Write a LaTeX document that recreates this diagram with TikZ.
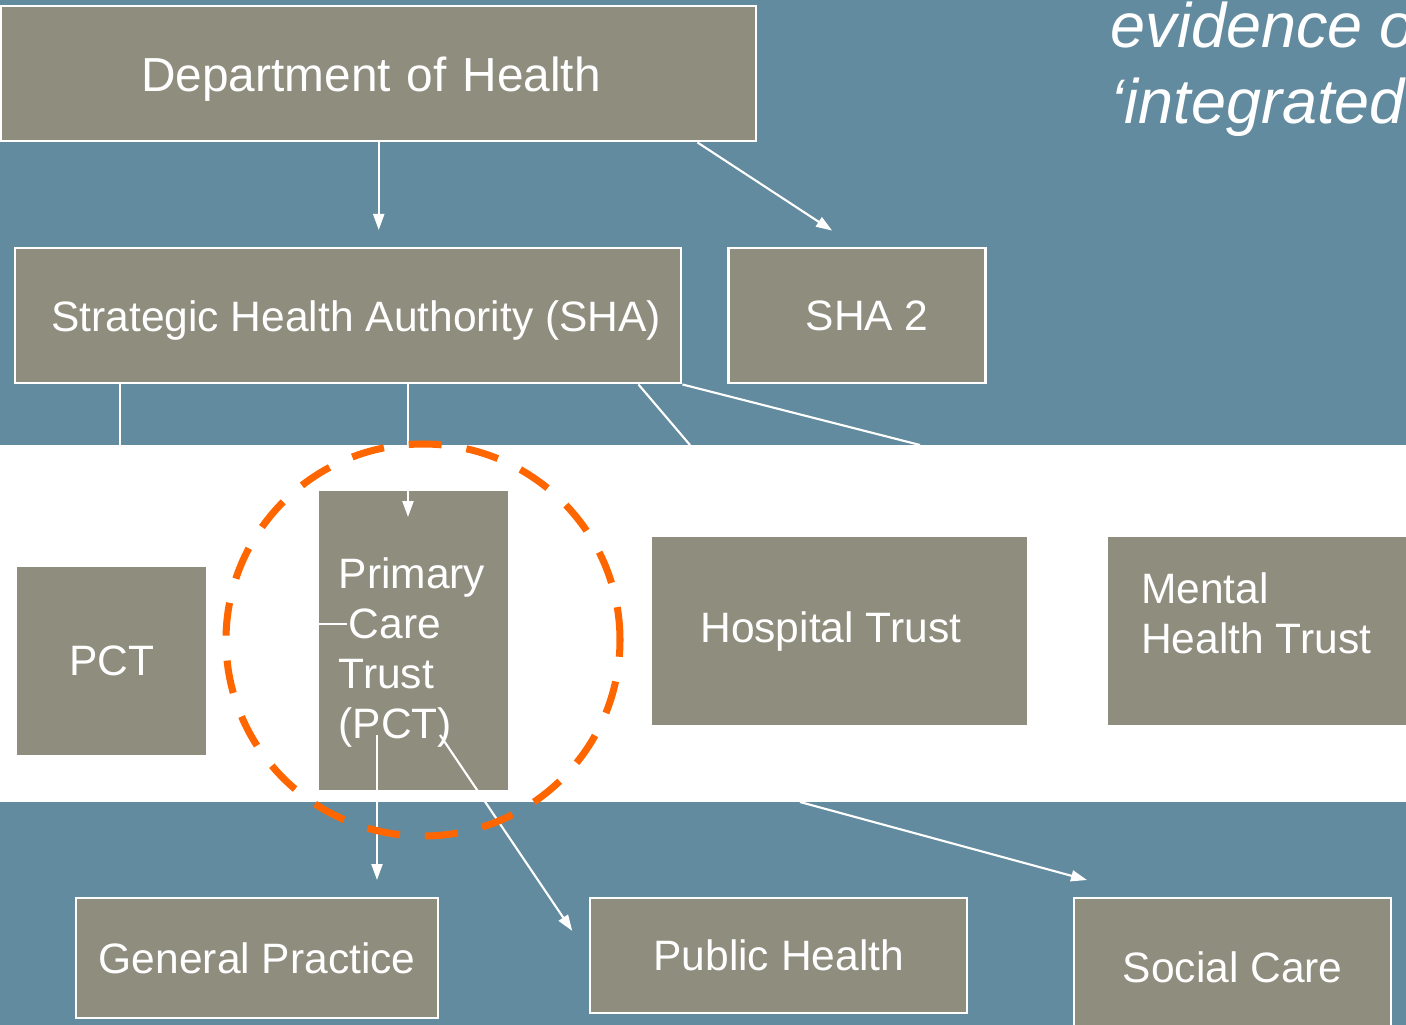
\documentclass[tikz,border=0pt]{standalone}
\usepackage{fontspec}
\setmainfont{Liberation Sans}
\usepackage{xcolor}
\usepackage{tikz}
\usetikzlibrary{positioning, arrows.meta}
\usetikzlibrary{calc}

\definecolor{slate}{RGB}{98,139,159}
\definecolor{stone}{RGB}{142,141,126}
\definecolor{flame}{RGB}{255,102,0}

\begin{document}
\begin{tikzpicture}[
        node distance=0.45cm,
        boxtext/.style={text=white, font=\fontsize{12.1}{14.2}\selectfont, inner sep=0pt},
        box/.style={rectangle, boxtext, draw=white, line width=0.7pt, fill=stone, text centered},
        bandbox/.style={box, draw=none},
        arrow/.style={draw=white, line width=0.6pt, -{Triangle[length=0.16cm, width=0.11cm]}},
        link/.style={draw=white, line width=0.6pt},
        ring/.style={draw=flame, line width=2pt, dash pattern=on 0.33cm off 0.25cm}
    ]
        \useasboundingbox (0,0) rectangle (14.06,-10.25);
        \clip (0,0) rectangle (14.06,-10.25);

        % ===== 背景与白色横带 =====
        \fill[slate] (0,0) rectangle (14.06,-10.25);
        \fill[white] (0,-4.45) rectangle (14.06,-8.02);

        % ===== 上层 =====
        \node (doh) [box, minimum width=7.55cm, minimum height=1.35cm, anchor=north west,
            align=left, text width=4.75cm, inner xsep=1.4cm, text depth=0pt,
            font=\fontsize{13.6}{16}\selectfont] at (0,-0.05) {Department of Health};
        \node (sha) [box, minimum width=6.66cm, minimum height=1.35cm, anchor=north west, text depth=0pt]
            at (0.14,-2.47) {\hspace*{0.16cm}Strategic Health Authority (SHA)};
        \node (sha2) [box, minimum width=2.57cm, minimum height=1.35cm, right=0.45cm of sha] {\hspace*{0.2cm}SHA 2};

        % ===== 横带中的机构 =====
        \node (pct) [bandbox, minimum width=1.89cm, minimum height=1.88cm, anchor=north west] at (0.16,-5.66) {PCT};
        \node (pcttrust) [bandbox, minimum width=1.89cm, minimum height=2.99cm, anchor=north west] at (3.18,-4.90) {};
        \node (pctlabel) [boxtext, align=left, anchor=north west] at ($(pcttrust.north west)+(0.2,-0.67)$)
            {Primary\\\hspace*{0.1cm}Care\\Trust\\(PCT)};
        \node (hosp) [bandbox, minimum width=3.75cm, minimum height=1.88cm, anchor=north west] at (6.51,-5.36)
            {\hspace*{-0.18cm}Hospital Trust};
        \node (mht) [bandbox, minimum width=3.2cm, minimum height=1.88cm, right=0.78cm of hosp] {};
        \node (mhtlabel) [boxtext, align=left, anchor=west] at ($(mht.west)+(0.34,0.18)$) {Mental\\Health Trust};

        % ===== 下层 =====
        \node (gp) [box, minimum width=3.62cm, minimum height=1.2cm, anchor=north west] at (0.75,-8.97) {General Practice};
        \node (ph) [box, minimum width=3.77cm, minimum height=1.15cm, anchor=north west] at (5.89,-8.97) {Public Health};
        \node (sc) [box, minimum width=3.17cm, minimum height=1.38cm, anchor=north west] at (10.73,-8.97) {Social Care};

        % ===== 横带边缘及框内的连线端点 =====
        \coordinate (gapA) at (1.20,-4.45);
        \coordinate (gapB) at (6.90,-4.45);
        \coordinate (gapC) at (9.20,-4.45);
        \coordinate (pctIn) at (4.08,-5.17);
        \coordinate (gpOut) at (3.77,-7.35);
        \coordinate (phOut) at (4.40,-7.35);
        \coordinate (scOut) at (8.00,-8.02);

        % ===== 连线 =====
        \draw [arrow, shorten >=0.17cm] (doh.south) -- (doh.south |- sha.north);
        \draw [arrow, shorten >=0.3cm] ($(doh.south east)+(-0.6,0)$) -- (sha2.north);
        \draw [link] (sha.south -| gapA) -- (gapA);
        \draw [arrow] (sha.south -| pctIn) -- (pctIn);
        \draw [link] ($(sha.south east)+(-0.44,0)$) -- (gapB);
        \draw [link] (sha.south east) -- (gapC);
        \draw [link] ($(pcttrust.west)+(0,0.17)$) -- ++(0.29,0);
        \draw [arrow, shorten >=0.17cm] (gpOut) -- (gpOut |- gp.north);
        \draw [arrow, shorten >=0.3cm] (phOut) -- (ph.west);
        \draw [arrow] (scOut) -- ($(sc.north west)+(0.14,0.17)$);

        % ===== 橙色虚线圈 =====
        \draw [ring] (4.23,-6.40) ellipse [x radius=1.97cm, y radius=1.96cm];

        % ===== 右上角文字 =====
        \node (note) [boxtext, anchor=north west, align=left,
            font=\fontsize{17.9}{21.6}\selectfont\itshape] at (11.10,-0.01) {evidence of\\‘integrated’};

\end{tikzpicture}
\end{document}
